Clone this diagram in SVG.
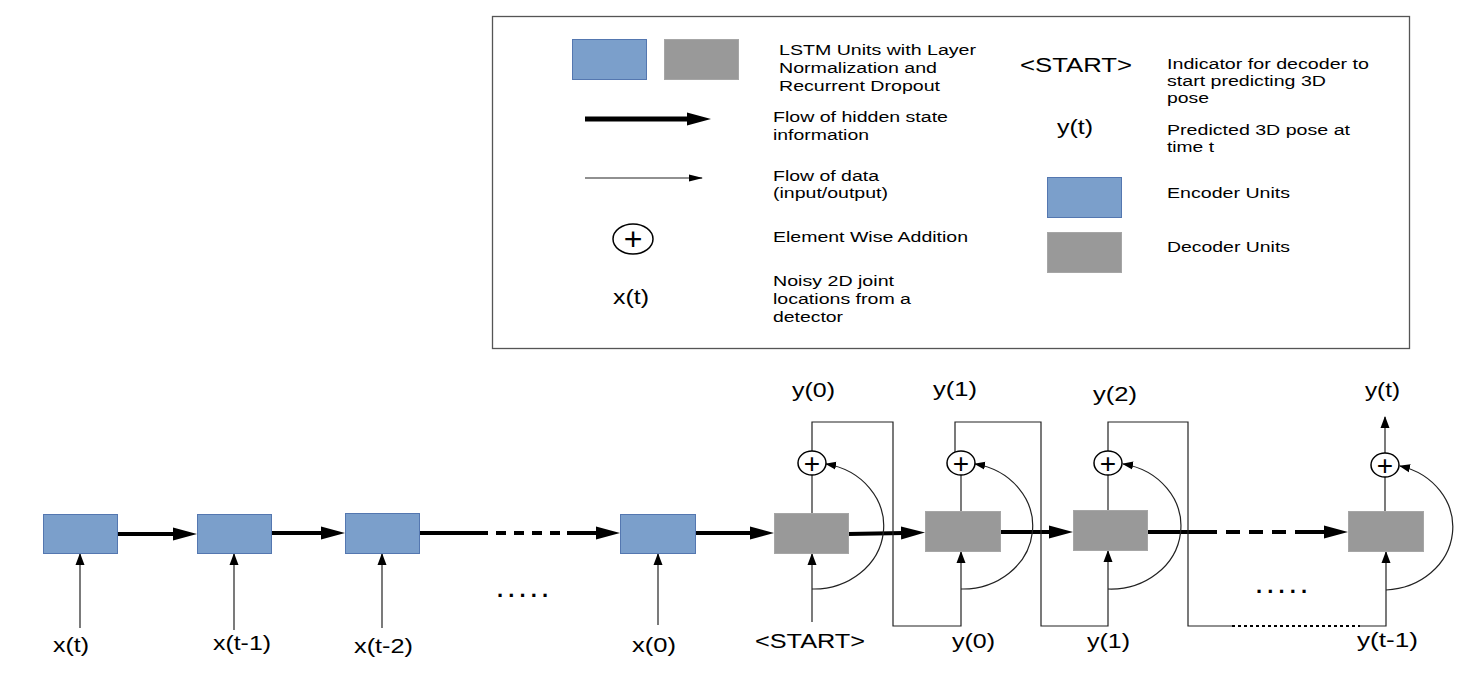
<svg xmlns="http://www.w3.org/2000/svg" width="1474" height="683" viewBox="0 0 1474 683">
<style>
text{font-family:"Liberation Sans",Arial,sans-serif;fill:#000}
.s15{font-size:15.5px}
.s20{font-size:20px}
.plus{font-size:28px;text-anchor:middle}
.dots{font-size:22px;font-weight:bold}
.enc{fill:#7b9fcb;stroke:#5477b0;stroke-width:1}
.dec{fill:#999999;stroke:#a6a6a6;stroke-width:1}
.thick{stroke:#000;stroke-width:4;fill:none}
.thin{stroke:#222;stroke-width:1.2;fill:none}
.circ{fill:#fff;stroke:#000;stroke-width:1.5}
</style>
<defs>
<marker id="ah" markerUnits="userSpaceOnUse" markerWidth="24" markerHeight="14" refX="2" refY="7" orient="auto"><path d="M0,0.5 L24,7 L0,13.5 z" fill="#000"/></marker>
<marker id="at" markerUnits="userSpaceOnUse" markerWidth="12" markerHeight="10" refX="11" refY="5" orient="auto"><path d="M0,0.5 L12,5 L0,9.5 z" fill="#000"/></marker>
<marker id="ac" markerUnits="userSpaceOnUse" markerWidth="11" markerHeight="9" refX="10" refY="4.5" orient="auto"><path d="M0,0.5 L11,4.5 L0,8.5 z" fill="#000"/></marker>
<marker id="alt" markerUnits="userSpaceOnUse" markerWidth="14" markerHeight="8" refX="13" refY="4" orient="auto"><path d="M0,0.5 L14,4 L0,7.5 z" fill="#000"/></marker>
</defs>

<g id="legend">
<rect x="492.5" y="16.5" width="917" height="332" fill="#fff" stroke="#555" stroke-width="1.3"/>
<rect x="572.5" y="39.5" width="74" height="40" class="enc"/>
<rect x="664.5" y="39.5" width="74" height="40" class="dec"/>
<text class="s15" x="779" y="55" textLength="197" lengthAdjust="spacingAndGlyphs">LSTM Units with Layer</text>
<text class="s15" x="779" y="73" textLength="158" lengthAdjust="spacingAndGlyphs">Normalization and</text>
<text class="s15" x="779" y="91" textLength="161" lengthAdjust="spacingAndGlyphs">Recurrent Dropout</text>
<path d="M585,119 L689,119" stroke="#000" stroke-width="5" marker-end="url(#ah)"/>
<text class="s15" x="773" y="122" textLength="175" lengthAdjust="spacingAndGlyphs">Flow of hidden state</text>
<text class="s15" x="773" y="140" textLength="96" lengthAdjust="spacingAndGlyphs">information</text>
<path d="M585,178 L702,178" class="thin" marker-end="url(#alt)"/>
<text class="s15" x="773" y="181" textLength="106" lengthAdjust="spacingAndGlyphs">Flow of data</text>
<text class="s15" x="773" y="198" textLength="115" lengthAdjust="spacingAndGlyphs">(input/output)</text>
<ellipse cx="633" cy="239" rx="20" ry="15" class="circ"/>
<text class="plus" x="633" y="250" style="font-size:32px">+</text>
<text class="s15" x="773" y="242" textLength="195" lengthAdjust="spacingAndGlyphs">Element Wise Addition</text>
<text class="s20" x="613" y="304" textLength="36" lengthAdjust="spacingAndGlyphs">x(t)</text>
<text class="s15" x="773" y="286" textLength="121" lengthAdjust="spacingAndGlyphs">Noisy 2D joint</text>
<text class="s15" x="773" y="304" textLength="138" lengthAdjust="spacingAndGlyphs">locations from a</text>
<text class="s15" x="773" y="322" textLength="70" lengthAdjust="spacingAndGlyphs">detector</text>
<text class="s20" x="1020" y="72" textLength="112" lengthAdjust="spacingAndGlyphs">&lt;START&gt;</text>
<text class="s15" x="1167" y="69" textLength="202" lengthAdjust="spacingAndGlyphs">Indicator for decoder to</text>
<text class="s15" x="1167" y="86" textLength="159" lengthAdjust="spacingAndGlyphs">start predicting 3D</text>
<text class="s15" x="1167" y="103" textLength="42" lengthAdjust="spacingAndGlyphs">pose</text>
<text class="s20" x="1057" y="134" textLength="36" lengthAdjust="spacingAndGlyphs">y(t)</text>
<text class="s15" x="1167" y="135" textLength="183" lengthAdjust="spacingAndGlyphs">Predicted 3D pose at</text>
<text class="s15" x="1167" y="152" textLength="47" lengthAdjust="spacingAndGlyphs">time t</text>
<rect x="1047.5" y="177.5" width="74" height="40" class="enc"/>
<text class="s15" x="1167" y="198" textLength="123" lengthAdjust="spacingAndGlyphs">Encoder Units</text>
<rect x="1047.5" y="232.5" width="74" height="40" class="dec"/>
<text class="s15" x="1167" y="252" textLength="123" lengthAdjust="spacingAndGlyphs">Decoder Units</text>
</g>

<g id="connectors">
<path d="M117,534 L175,534" class="thick" marker-end="url(#ah)"/>
<path d="M271,533 L323,533" class="thick" marker-end="url(#ah)"/>
<path d="M419,533 L478,533" class="thick"/>
<path d="M478,533 L563,533" class="thick" stroke-dasharray="10 8"/>
<path d="M567,533 L598,533" class="thick" marker-end="url(#ah)"/>
<path d="M695,533 L752,533" class="thick" marker-end="url(#ah)"/>
<path d="M848,534 L903,533" class="thick" marker-end="url(#ah)"/>
<path d="M1000,532 L1051,532" class="thick" marker-end="url(#ah)"/>
<path d="M1147,532 L1203,532" class="thick"/>
<path d="M1203,532 L1290,532" class="thick" stroke-dasharray="14 9"/>
<path d="M1295,532 L1326,532" class="thick" marker-end="url(#ah)"/>

<path d="M80,628 L80,554" class="thin" marker-end="url(#at)"/>
<path d="M234,630 L234,554" class="thin" marker-end="url(#at)"/>
<path d="M382,628 L382,554" class="thin" marker-end="url(#at)"/>
<path d="M658,625 L658,554" class="thin" marker-end="url(#at)"/>
<path d="M812,622 L812,554" class="thin" marker-end="url(#at)"/>

<path d="M812,513 L812,475" class="thin"/>
<path d="M961,511 L961,475" class="thin"/>
<path d="M1108,511 L1108,475" class="thin"/>
<path d="M1385,512 L1385,477" class="thin"/>
<path d="M1385,453 L1385,417" class="thin" marker-end="url(#at)"/>

<path d="M812,451 L812,422 L893,422 L893,626 L961,626 L961,552" class="thin" marker-end="url(#at)"/>
<path d="M955,452 L955,422 L1041,422 L1041,626 L1108,626 L1108,551" class="thin" marker-end="url(#at)"/>
<path d="M1108,451 L1108,422 L1188,422 L1188,626 L1232,626" class="thin"/>
<path d="M1232,626 L1360,626" fill="none" stroke="#000" stroke-width="1.8" stroke-dasharray="3 3"/>
<path d="M1360,626 L1386,626 L1386,552" class="thin" marker-end="url(#at)"/>

<path d="M812,589 A70,63 0 0 0 826,464" class="thin" marker-end="url(#ac)"/>
<path d="M961,589 A70,63 0 0 0 975,464" class="thin" marker-end="url(#ac)"/>
<path d="M1108,589 A70,63 0 0 0 1123,464" class="thin" marker-end="url(#ac)"/>
<path d="M1386,590 A70,63 0 0 0 1400,466" class="thin" marker-end="url(#ac)"/>
</g>

<g id="enc1"><rect x="43.5" y="514.5" width="74" height="39" class="enc"/></g>
<g id="enc2"><rect x="197.5" y="514.5" width="74" height="39" class="enc"/></g>
<g id="enc3"><rect x="345.5" y="513.5" width="74" height="40" class="enc"/></g>
<g id="enc4"><rect x="620.5" y="514.5" width="75" height="39" class="enc"/></g>
<g id="dec1"><rect x="774.5" y="513.5" width="74" height="40" class="dec"/></g>
<g id="dec2"><rect x="925.5" y="511.5" width="75" height="40" class="dec"/></g>
<g id="dec3"><rect x="1073.5" y="510.5" width="74" height="40" class="dec"/></g>
<g id="dec4"><rect x="1348.5" y="511.5" width="75" height="40" class="dec"/></g>

<g id="add1"><ellipse cx="812" cy="463" rx="14" ry="12" class="circ"/><text class="plus" x="812" y="473">+</text></g>
<g id="add2"><ellipse cx="961" cy="463" rx="14" ry="12" class="circ"/><text class="plus" x="961" y="473">+</text></g>
<g id="add3"><ellipse cx="1108" cy="463" rx="14" ry="12" class="circ"/><text class="plus" x="1108" y="473">+</text></g>
<g id="add4"><ellipse cx="1385" cy="465" rx="14" ry="12" class="circ"/><text class="plus" x="1385" y="475">+</text></g>

<g id="labels">
<text class="s20" x="53" y="652" textLength="36" lengthAdjust="spacingAndGlyphs">x(t)</text>
<text class="s20" x="213" y="650" textLength="58" lengthAdjust="spacingAndGlyphs">x(t-1)</text>
<text class="s20" x="354" y="653" textLength="59" lengthAdjust="spacingAndGlyphs">x(t-2)</text>
<text class="s20" x="632" y="652" textLength="44" lengthAdjust="spacingAndGlyphs">x(0)</text>
<text class="dots" x="497" y="597" textLength="51" lengthAdjust="spacing">.....</text>
<text class="s20" x="755" y="648" textLength="110" lengthAdjust="spacingAndGlyphs">&lt;START&gt;</text>
<text class="s20" x="952" y="648" textLength="43" lengthAdjust="spacingAndGlyphs">y(0)</text>
<text class="s20" x="1087" y="648" textLength="43" lengthAdjust="spacingAndGlyphs">y(1)</text>
<text class="s20" x="1357" y="647" textLength="61" lengthAdjust="spacingAndGlyphs">y(t-1)</text>
<text class="dots" x="1256" y="593" textLength="51" lengthAdjust="spacing">.....</text>
<text class="s20" x="792" y="397" textLength="43" lengthAdjust="spacingAndGlyphs">y(0)</text>
<text class="s20" x="933" y="396" textLength="44" lengthAdjust="spacingAndGlyphs">y(1)</text>
<text class="s20" x="1093" y="401" textLength="44" lengthAdjust="spacingAndGlyphs">y(2)</text>
<text class="s20" x="1365" y="397" textLength="35" lengthAdjust="spacingAndGlyphs">y(t)</text>
</g>
</svg>
